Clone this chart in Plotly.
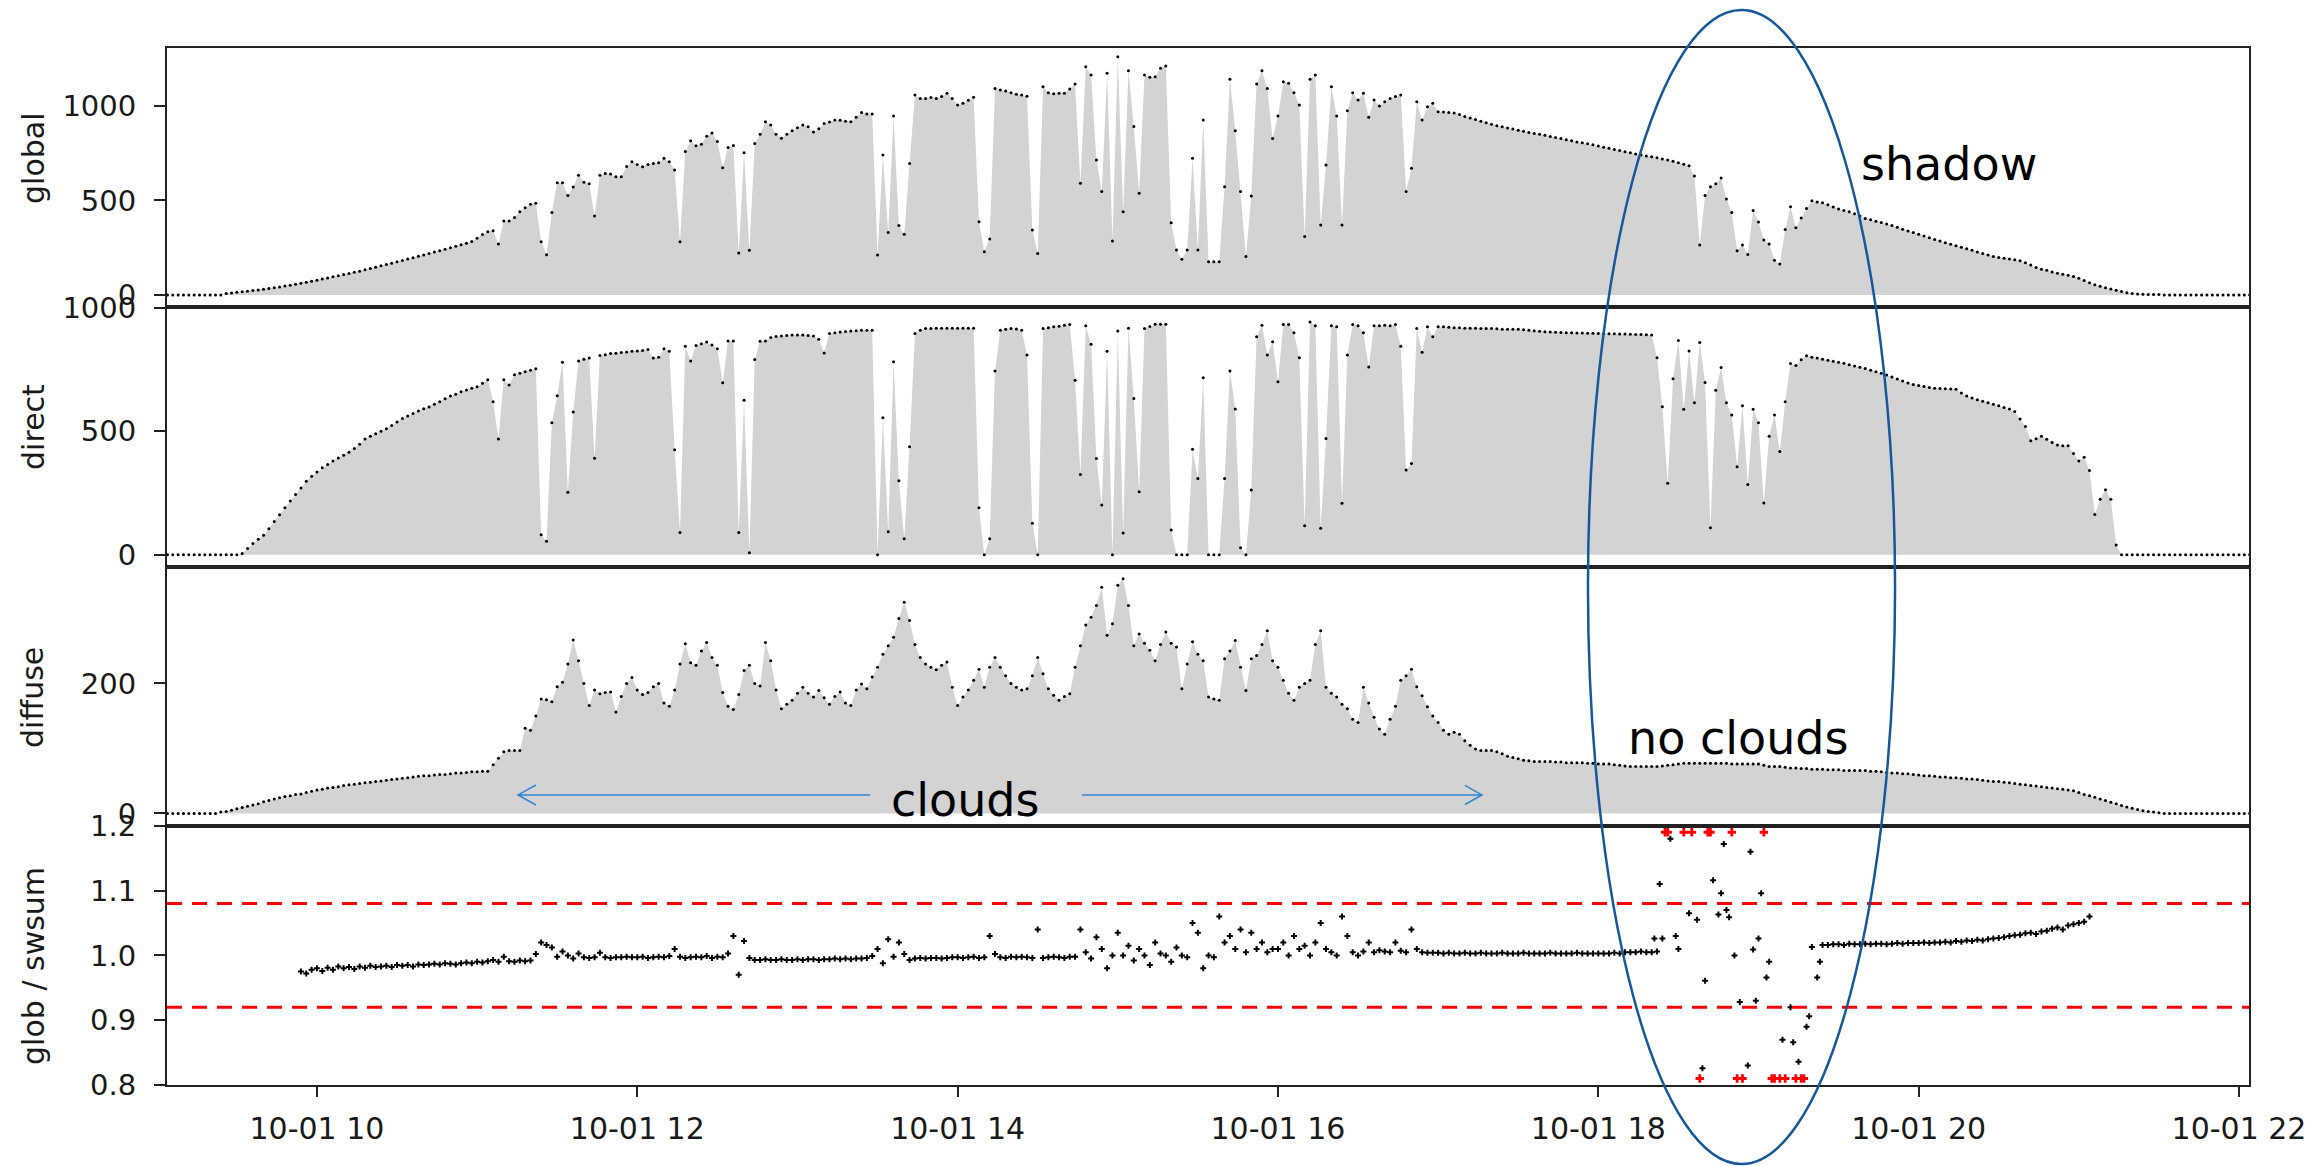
import pandas as pd
import plotly.graph_objects as go
from plotly.subplots import make_subplots

# ---------------------------------------------------------------------------
# Radiation record of 10-01, 2-minute samples from 09:04 to 22:04 (W/m2)
# one row per hour
# ---------------------------------------------------------------------------
times = pd.date_range("2019-10-01 09:04", "2019-10-01 22:04", freq="2min")

global_irr = [
    0, 0, 0, 0, 0, 0, 0, 0, 0, 0, 0, 8, 11, 14, 17, 20, 23, 26, 30, 34, 38, 42, 47, 52, 57, 62, 67, 72,
    78, 84, 90, 96, 102, 108, 114, 120, 126, 133, 140, 147, 154, 161, 168, 176, 183, 190, 197, 205, 212, 219, 227, 234, 242, 250, 258, 266, 274, 283,
    300, 320, 335, 340, 270, 392, 392, 410, 440, 462, 480, 485, 281, 213, 437, 594, 594, 526, 571, 634, 596, 588, 418, 634, 643, 640, 625, 625, 680, 705,
    690, 679, 690, 696, 700, 723, 705, 661, 281, 759, 816, 790, 798, 840, 857, 812, 673, 780, 791, 222, 752, 237, 802, 850, 917, 900, 850, 830, 850, 869,
    885, 899, 890, 862, 880, 908, 915, 926, 925, 920, 917, 940, 965, 958, 958, 212, 741, 331, 947, 368, 321, 696, 1058, 1040, 1040, 1045, 1040, 1050, 1067, 1040,
    1005, 1015, 1030, 1046, 387, 229, 296, 1093, 1085, 1080, 1070, 1062, 1058, 1052, 344, 220, 1102, 1070, 1065, 1067, 1067, 1090, 1116, 591, 1208, 1164, 714, 547, 1173, 286,
    1261, 441, 1187, 891, 538, 1164, 1152, 1155, 1200, 1212, 382, 238, 189, 238, 723, 238, 926, 176, 176, 176, 573, 1141, 869, 547, 203, 524, 1116, 1187, 1093, 828,
    947, 1129, 1120, 1070, 1005, 309, 1141, 1164, 370, 688, 1102, 947, 370, 975, 1070, 1032, 1067, 940, 1032, 1000, 1023, 1040, 1050, 1058, 547, 670, 1023, 926, 996, 1014,
    970, 968, 966, 963, 955, 945, 937, 928, 920, 912, 904, 896, 890, 884, 878, 872, 866, 860, 855, 850, 845, 839, 834, 828, 822, 816, 810, 805, 800, 795,
    788, 782, 776, 770, 764, 758, 752, 746, 741, 736, 731, 726, 720, 714, 708, 700, 692, 684, 629, 265, 526, 573, 589, 619, 508, 437, 234, 265, 214, 447,
    386, 291, 270, 184, 164, 346, 467, 356, 407, 457, 498, 492, 488, 478, 465, 455, 447, 440, 430, 418, 405, 398, 390, 383, 376, 367, 358, 348, 339, 330,
    321, 312, 303, 294, 285, 277, 269, 261, 252, 244, 236, 228, 220, 212, 204, 198, 194, 190, 186, 181, 170, 158, 146, 136, 131, 122, 115, 109, 104, 98,
    88, 76, 64, 54, 46, 38, 32, 25, 18, 12, 8, 5, 4, 3, 2, 2, 0, 0, 0, 0, 0, 0, 0, 0, 0, 0, 0, 0, 0, 0,
    0, 0, 0,
]

direct_irr = [
    0, 0, 0, 0, 0, 0, 0, 0, 0, 0, 0, 0, 0, 0, 5, 25, 45, 62, 79, 105, 134, 162, 190, 218, 244, 270, 298, 318,
    335, 352, 366, 380, 392, 403, 415, 430, 448, 469, 480, 490, 500, 510, 524, 538, 552, 562, 572, 582, 592, 599, 610, 620, 632, 643, 650, 660, 668, 675,
    681, 695, 709, 620, 469, 709, 688, 729, 735, 742, 748, 754, 81, 54, 535, 644, 780, 253, 578, 785, 792, 797, 391, 807, 810, 815, 817, 820, 822, 825,
    826, 828, 832, 797, 800, 835, 825, 425, 90, 845, 785, 848, 855, 862, 850, 835, 697, 866, 866, 90, 626, 8, 791, 865, 866, 880, 884, 886, 888, 890,
    890, 890, 888, 886, 873, 818, 897, 900, 903, 905, 907, 908, 910, 910, 910, 0, 555, 93, 782, 300, 64, 437, 897, 910, 917, 917, 918, 918, 918, 918,
    918, 918, 918, 918, 190, 0, 64, 745, 910, 914, 917, 915, 910, 809, 127, 0, 917, 920, 924, 926, 930, 933, 707, 325, 928, 853, 390, 201, 825, 0,
    907, 88, 918, 633, 255, 917, 925, 934, 934, 934, 100, 0, 0, 0, 427, 309, 717, 0, 0, 0, 309, 745, 590, 28, 0, 262, 883, 930, 809, 863,
    701, 933, 933, 900, 798, 117, 943, 928, 107, 471, 928, 924, 208, 809, 933, 928, 900, 761, 928, 928, 930, 928, 933, 845, 343, 370, 917, 821, 924, 883,
    924, 924, 922, 920, 920, 918, 918, 918, 917, 917, 917, 916, 914, 914, 914, 914, 912, 910, 908, 906, 904, 903, 902, 901, 900, 900, 899, 899, 898, 898,
    897, 897, 896, 896, 895, 895, 894, 893, 893, 892, 891, 798, 600, 290, 713, 868, 589, 826, 616, 860, 698, 109, 667, 759, 616, 566, 356, 604, 284, 589,
    535, 209, 480, 566, 418, 620, 775, 767, 790, 806, 800, 797, 792, 788, 784, 780, 776, 770, 765, 760, 755, 748, 742, 735, 728, 720, 712, 704, 696, 690,
    686, 682, 678, 675, 674, 673, 672, 671, 655, 643, 635, 628, 622, 616, 610, 604, 597, 590, 580, 550, 520, 462, 470, 480, 468, 455, 445, 442, 442, 410,
    380, 395, 341, 163, 225, 263, 225, 39, 0, 0, 0, 0, 0, 0, 0, 0, 0, 0, 0, 0, 0, 0, 0, 0, 0, 0, 0, 0, 0, 0,
    0, 0, 0,
]

diffuse_irr = [
    0, 0, 0, 0, 0, 0, 0, 0, 0, 0, 2, 3, 5, 7, 9, 11, 13, 15, 18, 20, 22, 24, 26, 27, 29, 30, 32, 34,
    36, 37, 39, 40, 41, 43, 44, 45, 46, 47, 48, 49, 50, 51, 52, 53, 54, 55, 56, 57, 58, 58, 59, 60, 60, 61, 62, 62, 63, 64,
    64, 65, 65, 75, 85, 95, 97, 97, 97, 131, 128, 150, 176, 175, 172, 195, 202, 230, 267, 235, 200, 166, 190, 184, 186, 187, 156, 180, 200, 209,
    190, 183, 186, 195, 200, 170, 165, 190, 230, 261, 232, 228, 250, 263, 240, 228, 186, 165, 160, 183, 220, 228, 200, 196, 263, 235, 190, 161, 168, 174,
    185, 194, 185, 179, 189, 178, 168, 180, 187, 170, 166, 190, 199, 192, 210, 225, 245, 258, 271, 300, 325, 297, 260, 240, 230, 225, 221, 228, 233, 194,
    166, 179, 190, 205, 222, 194, 225, 240, 225, 212, 200, 194, 190, 192, 212, 240, 215, 192, 182, 174, 180, 184, 225, 258, 290, 302, 320, 348, 274, 292,
    351, 361, 320, 258, 276, 262, 251, 235, 260, 279, 262, 256, 192, 230, 264, 245, 235, 179, 176, 174, 238, 250, 266, 225, 189, 238, 243, 260, 281, 235,
    225, 205, 185, 174, 194, 200, 205, 260, 281, 194, 185, 179, 168, 161, 145, 140, 194, 170, 148, 130, 122, 145, 165, 205, 212, 222, 195, 181, 164, 150,
    140, 128, 122, 125, 122, 112, 105, 99, 97, 97, 97, 95, 92, 88, 86, 84, 82, 81, 80, 80, 80, 80, 79, 79, 78, 78, 78, 78, 77, 77,
    76, 76, 76, 75, 74, 73, 72, 72, 72, 72, 72, 72, 73, 74, 75, 76, 77, 77, 77, 77, 77, 77, 77, 77, 77, 76, 76, 76, 76, 76,
    76, 74, 72, 72, 72, 71, 70, 70, 69, 69, 68, 68, 68, 67, 67, 67, 66, 66, 66, 66, 66, 65, 65, 64, 63, 62, 62, 61, 61, 60,
    59, 58, 58, 57, 56, 56, 55, 55, 54, 53, 53, 52, 51, 50, 49, 49, 48, 47, 46, 45, 44, 43, 42, 41, 40, 39, 38, 37, 36, 35,
    32, 29, 27, 25, 22, 20, 17, 15, 12, 10, 8, 6, 4, 3, 2, 1, 0, 0, 0, 0, 0, 0, 0, 0, 0, 0, 0, 0, 0, 0,
    0, 0, 0,
]

# global / (direct + diffuse), 2-minute samples 09:54 .. 21:04
# values pinned at 1.19 / 0.81 lie outside the displayed range
ratio_times = pd.date_range("2019-10-01 09:54", "2019-10-01 21:04", freq="2min")
ratio = [
    0.975, 0.972, 0.978,
    0.98, 0.976, 0.981, 0.978, 0.983, 0.98, 0.982, 0.979, 0.983, 0.981, 0.984, 0.982, 0.983, 0.984, 0.982, 0.985, 0.984, 0.985, 0.983, 0.986, 0.985, 0.986, 0.987, 0.986, 0.988, 0.987, 0.986, 0.988, 0.989, 0.988,
    0.99, 0.989, 0.991, 0.993, 0.99, 0.998, 0.991, 0.99, 0.992, 0.991, 0.992, 1.002, 1.02, 1.016, 1.012, 0.998, 1.006, 1.0, 0.995, 1.003, 0.997, 0.996, 0.997, 1.004, 0.997, 0.996, 0.997, 0.997, 0.998, 0.997,
    0.997, 0.998, 0.996, 0.997, 0.998, 0.997, 0.999, 1.01, 0.998, 0.996, 0.997, 0.998, 0.997, 0.999, 0.996, 0.998, 0.997, 1.003, 1.03, 0.97, 1.022, 0.996, 0.993, 0.993, 0.994, 0.993, 0.993, 0.994, 0.993, 0.993,
    0.994, 0.993, 0.994, 0.994, 0.993, 0.994, 0.994, 0.995, 0.994, 0.995, 0.994, 0.995, 0.995, 0.996, 0.999, 1.01, 0.988, 1.025, 0.998, 1.02, 1.002, 0.993, 0.995, 0.996, 0.995, 0.996, 0.996, 0.995, 0.996, 0.997,
    0.997, 0.996, 0.997, 0.998, 0.996, 0.997, 1.03, 1.002, 0.997, 0.996, 0.998, 0.997, 0.998, 0.997, 0.996, 1.04, 0.996, 0.997, 0.998, 0.997, 0.996, 0.998, 0.998, 1.04, 1.005, 0.995, 1.028, 1.01, 0.98, 1.0,
    1.035, 1.0, 1.015, 0.992, 1.01, 1.0, 0.985, 1.02, 1.003, 1.0, 0.99, 1.012, 1.0, 0.997, 1.05, 1.035, 0.98, 1.0, 0.997, 1.06, 1.02, 1.03, 1.01, 1.04, 1.005, 1.035, 1.01, 1.02, 1.005, 1.01,
    1.01, 1.02, 1.0, 1.03, 1.01, 1.015, 1.0, 1.02, 1.05, 1.01, 1.005, 1.0, 1.06, 1.03, 1.005, 1.0, 1.006, 1.02, 1.005, 1.008, 1.006, 1.005, 1.02, 1.007, 1.005, 1.04, 1.01, 1.005, 1.004, 1.004,
    1.004, 1.003, 1.004, 1.003, 1.003, 1.004, 1.003, 1.003, 1.004, 1.003, 1.003, 1.003, 1.004, 1.003, 1.003, 1.003, 1.004, 1.003, 1.003, 1.003, 1.003, 1.004, 1.003, 1.003, 1.003, 1.003, 1.004, 1.003, 1.003, 1.003,
    1.003, 1.003, 1.003, 1.004, 1.003, 1.005, 1.005, 1.005, 1.006, 1.005, 1.005, 1.006, 1.026, 1.19, None, 1.01, 1.19, 1.065, None, 0.81, 0.961, 1.19, None, 1.096, 1.07, 1.19, 0.81, 0.81, 0.83, 1.009,
    1.026, 1.19, 0.99, 0.81, 0.81, 0.81, 0.92, 0.81, 0.81, 0.89, 1.013, 0.966, 1.016, 1.016, 1.017, 1.017, 1.016, 1.018, 1.017, 1.017, 1.018, 1.017, 1.018, 1.018, 1.017, 1.018, 1.019, 1.018, 1.019, 1.019,
    1.019, 1.02, 1.019, 1.02, 1.02, 1.021, 1.02, 1.022, 1.021, 1.023, 1.022, 1.024, 1.023, 1.025, 1.026, 1.027, 1.028, 1.03, 1.031, 1.032, 1.034, 1.035, 1.033, 1.037, 1.038, 1.041, 1.043, 1.04, 1.046, 1.048,
    1.05, 1.052, 1.06,
]

# the odd minutes inside the shadow period (18:21 .. 19:23)
shadow_times = pd.date_range("2019-10-01 18:21", "2019-10-01 19:23", freq="2min")
shadow_ratio = [
    1.026, 1.11, 1.19, 1.18, 1.03, None, None, 1.19, 1.055, 0.826, 1.19, 1.116, 1.063, 1.172, 1.059, 1.0,
    0.928, None, 1.16, 0.93, 1.096, 0.966, 0.81, None, 0.87, None, 0.866, 0.836, 0.81, 0.906, None, 0.99,
]

limit_low, limit_high = 0.92, 1.08

assert len(global_irr) == len(direct_irr) == len(diffuse_irr) == len(times)
assert len(ratio) == len(ratio_times) and len(shadow_ratio) == len(shadow_times)

# ---------------------------------------------------------------------------
FONT = "DejaVu Sans"
INK = "#1a1a1a"
FILL = "#d3d3d3"
H, M_TOP, M_BOT = 1166, 48, 81
PLOT_H = H - M_TOP - M_BOT


def paper_y(px):
    """Vertical pixel position (from the top of the page) to paper units."""
    return (H - M_BOT - px) / PLOT_H


fig = make_subplots(rows=4, cols=1, shared_xaxes=True, vertical_spacing=0)

for row, series in ((1, global_irr), (2, direct_irr), (3, diffuse_irr)):
    fig.add_trace(go.Scatter(x=times, y=series, mode="lines", line=dict(width=0, color=FILL),
                             fill="tozeroy", fillcolor=FILL, hoverinfo="skip"), row=row, col=1)
    fig.add_trace(go.Scatter(x=times, y=series, mode="markers",
                             marker=dict(size=3, color="black")), row=row, col=1)

# ratio points, out-of-range ones in red
pts = [(t, v) for t, v in zip(ratio_times, ratio) if v is not None]
pts += [(t, v) for t, v in zip(shadow_times, shadow_ratio) if v is not None]
ok = [(t, v) for t, v in pts if 0.81 < v < 1.19]
bad = [(t, v) for t, v in pts if not (0.81 < v < 1.19)]
fig.add_trace(go.Scatter(x=[p[0] for p in ok], y=[p[1] for p in ok], mode="markers",
                         marker=dict(size=5, color="black", symbol="cross")), row=4, col=1)
fig.add_trace(go.Scatter(x=[p[0] for p in bad], y=[p[1] for p in bad], mode="markers",
                         marker=dict(size=7, color="red", symbol="cross")), row=4, col=1)

for lvl in (limit_low, limit_high):
    fig.add_shape(type="line", xref="x4 domain", yref="y4", x0=0, x1=1, y0=lvl, y1=lvl,
                  line=dict(color="red", width=3, dash="15px,10px"))

axis_common = dict(showline=True, mirror=True, linecolor="#222", linewidth=2, showgrid=False,
                   zeroline=False)
y_setup = {
    1: dict(range=[-65, 1307], tickvals=[0, 500, 1000], ticktext=["0", "500", "1000"]),
    2: dict(range=[-48, 1003], tickvals=[0, 500, 1000], ticktext=["0", "500", "1000"]),
    3: dict(range=[-19, 380], tickvals=[0, 200], ticktext=["0", "200"]),
    4: dict(range=[0.8, 1.2], tickvals=[0.8, 0.9, 1.0, 1.1, 1.2],
            ticktext=["0.8", "0.9", "1.0", "1.1", "1.2"]),
}
for row, cfg in y_setup.items():
    fig.update_yaxes(row=row, col=1, **cfg, **axis_common, ticks="outside", ticklen=11,
                     tickwidth=2, tickcolor="#222", ticklabelstandoff=12,
                     tickfont=dict(family=FONT, size=29, color=INK), automargin=False)

hours = [10, 12, 14, 16, 18, 20, 22]
fig.update_xaxes(**axis_common, range=["2019-10-01 09:03:50", "2019-10-01 22:03:45"],
                 automargin=False)
fig.update_xaxes(row=4, col=1, ticks="outside", ticklen=10, tickwidth=2, tickcolor="#222",
                 tickvals=[f"2019-10-01 {h:02d}:00" for h in hours],
                 ticktext=[f"10-01 {h}" for h in hours], ticklabelstandoff=6,
                 tickfont=dict(family=FONT, size=30, color=INK))

# panel titles on the left, aligned in one column
titles = [("global", 158), ("direct", 427), ("diffuse", 697), ("glob / swsum", 966)]
for title, ypx in titles:
    fig.add_annotation(text=title, xref="paper", yref="paper", x=-0.0644, y=paper_y(ypx),
                       textangle=-90, showarrow=False, xanchor="center", yanchor="middle",
                       font=dict(family=FONT, size=30, color=INK))

# notes drawn over the chart
ELLIPSE = "#16589a"
ARROW = "#2e86d2"
fig.add_shape(type="circle", xref="paper", yref="paper", x0=0.6825, x1=0.830, y0=-0.0762,
              y1=1.0366, line=dict(color=ELLIPSE, width=2.5))
fig.add_shape(type="path", xref="paper", yref="paper",
              path="M 0.3377,0.2797 L 0.1686,0.2797 M 0.1772,0.2893 L 0.1686,0.2797 L 0.1772,0.2700",
              line=dict(color=ARROW, width=1.5))
fig.add_shape(type="path", xref="paper", yref="paper",
              path="M 0.4395,0.2797 L 0.6316,0.2797 M 0.6234,0.2889 L 0.6316,0.2797 L 0.6234,0.2705",
              line=dict(color=ARROW, width=1.5))
for text, x, y in (("shadow", 0.8559, 0.888), ("no clouds", 0.7546, 0.335), ("clouds", 0.3833, 0.275)):
    fig.add_annotation(text=text, xref="paper", yref="paper", x=x, y=y, showarrow=False,
                       xanchor="center", yanchor="middle", font=dict(family=FONT, size=46, color="black"))

fig.update_layout(width=2313, height=H, template="none", showlegend=False,
                  paper_bgcolor="white", plot_bgcolor="white",
                  margin=dict(l=167, r=64, t=M_TOP, b=M_BOT),
                  font=dict(family=FONT, color=INK))

fig.write_html("out.html")
